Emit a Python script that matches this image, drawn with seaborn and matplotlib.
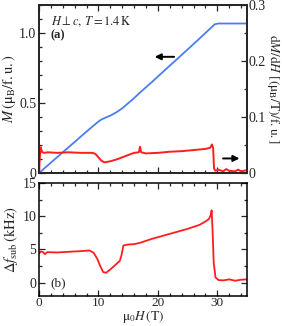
"""Magnetization, dM/dH and frequency shift vs field (H perp c, T = 1.4 K)."""

import matplotlib

matplotlib.use("Agg")
import matplotlib.pyplot as plt
import pandas as pd
import seaborn as sns
from matplotlib.ticker import MultipleLocator

# magnetization M (left axis, panel a)
M_FIELD = [0, 2, 4, 6, 8, 9.5, 10, 10.5, 11, 12, 13, 14, 16, 17, 19, 21, 23, 25, 27, 29, 29.6, 30.2, 32, 35]
M_VALUE = [0, 0.074, 0.148, 0.222, 0.296, 0.35, 0.368, 0.382, 0.392, 0.41, 0.433, 0.462, 0.535, 0.575,
           0.65, 0.728, 0.805, 0.882, 0.96, 1.04, 1.063, 1.068, 1.068, 1.068]

# dM/dH (right axis, panel a)
DMDH_FIELD = [0, 0.15, 0.3, 0.5, 0.8, 1.5, 3, 5, 7, 9, 9.5, 10, 10.5, 11, 11.5, 12, 13, 14, 15, 16,
              16.8, 17, 17.2, 18, 20, 22, 24, 26, 28, 28.8, 29.1, 29.3, 29.45, 29.7, 30.2, 31, 31.5,
              32, 33, 33.5, 34, 35]
DMDH_VALUE = [0, 0.03, 0.046, 0.038, 0.036, 0.037, 0.036, 0.037, 0.036, 0.036, 0.034, 0.028, 0.022,
              0.019, 0.02, 0.021, 0.024, 0.028, 0.032, 0.036, 0.037, 0.047, 0.037, 0.035, 0.036, 0.038,
              0.039, 0.041, 0.043, 0.045, 0.051, 0.045, 0.008, 0.004, 0.006, 0.003, 0.007, 0.004,
              0.003, 0.006, 0.003, 0.005]

# frequency shift (panel b)
DF_FIELD = [0, 0.3, 0.7, 1.0, 1.4, 3, 5, 7, 8.5, 9.2, 9.8, 10.3, 10.8, 11.3, 12, 13, 13.6, 13.9, 14.2,
            15, 16, 17, 19, 21, 23, 25, 27, 28, 28.6, 28.9, 29.05, 29.2, 29.4, 29.7, 30.2, 31, 32, 33,
            34, 35]
DF_VALUE = [4.4, 4.7, 4.6, 4.3, 4.6, 4.55, 4.65, 4.75, 4.85, 4.5, 3.6, 2.5, 1.6, 1.5, 2.0, 2.8, 3.3,
            4.2, 5.6, 5.75, 5.8, 6.0, 6.6, 7.1, 7.6, 8.1, 8.7, 9.2, 9.6, 10.2, 10.9, 8.0, 3.0, 0.8,
            0.4, 0.35, 0.5, 0.3, 0.45, 0.5]

BLUE = "#4a7df2"
RED = "#ff1e1e"


def style_axis(ax, right=True):
    ax.tick_params(which="both", direction="in", top=True, right=right, width=0.9,
                   labelsize=10, pad=2)
    ax.tick_params(which="major", length=4.5)
    ax.tick_params(which="minor", length=2.5)
    for spine in ax.spines.values():
        spine.set_linewidth(1.1)
        spine.set_color("black")


sns.set_theme(style="ticks")
plt.rcParams["font.family"] = ["Liberation Serif", "DejaVu Serif"]
plt.rcParams["mathtext.fontset"] = "stix"

m_df = pd.DataFrame({"H": M_FIELD, "M": M_VALUE})
d_df = pd.DataFrame({"H": DMDH_FIELD, "dMdH": DMDH_VALUE})
f_df = pd.DataFrame({"H": DF_FIELD, "df": DF_VALUE})

fig = plt.figure(figsize=(2.82, 3.26), dpi=100)
ax1 = fig.add_axes([0.1383, 0.4693, 0.7376, 0.5153])
ax2 = fig.add_axes([0.1383, 0.092, 0.7376, 0.3466])

# panel (a)
sns.lineplot(data=m_df, x="H", y="M", color=BLUE, linewidth=1.3, ax=ax1)
ax1.set_xlim(0, 35)
ax1.set_ylim(0, 1.2)
ax1.set_xticks([0, 10, 20, 30], [])
ax1.xaxis.set_minor_locator(MultipleLocator(2))
ax1.set_yticks([0, 0.5, 1.0], ["0", "0.5", "1.0"])
ax1.yaxis.set_minor_locator(MultipleLocator(0.1))
ax1.set_xlabel("")
ax1.set_ylabel(r"$M\,(\mathrm{\mu_B/f.u.})$", fontsize=10.5, labelpad=1)
style_axis(ax1, right=False)

ax1r = ax1.twinx()
sns.lineplot(data=d_df, x="H", y="dMdH", color=RED, linewidth=1.4, ax=ax1r)
ax1r.set_ylim(0, 0.3)
ax1r.set_xlim(0, 35)
ax1r.set_yticks([0, 0.1, 0.2, 0.3], ["0", "0.1", "0.2", "0.3"])
ax1r.yaxis.set_minor_locator(MultipleLocator(0.05))
ax1r.set_ylabel(r"$\mathrm{d}M/\mathrm{d}H\ [(\mathrm{\mu_B/T})/\mathrm{f.u.}]$",
                fontsize=9.5, rotation=270, labelpad=12)
ax1r.tick_params(which="both", direction="in", width=0.9, labelsize=10, pad=1)
ax1r.tick_params(which="major", length=4.5)
ax1r.tick_params(which="minor", length=2.5)

ax1.text(0.06, 0.90, r"$H \perp c,\, T = 1.4\,\mathrm{K}$", transform=ax1.transAxes,
         fontsize=9, va="center")
ax1.text(0.055, 0.82, "(a)", transform=ax1.transAxes, fontsize=9, va="center",
         fontweight="bold")
ax1.annotate("", xy=(19.0, 0.83), xytext=(23.2, 0.83),
             arrowprops=dict(arrowstyle="-|>", color="black", lw=1.4, mutation_scale=9))
ax1r.annotate("", xy=(34.2, 0.026), xytext=(30.5, 0.026),
              arrowprops=dict(arrowstyle="-|>", color="black", lw=1.4, mutation_scale=9))

# panel (b)
sns.lineplot(data=f_df, x="H", y="df", color=RED, linewidth=1.3, ax=ax2)
ax2.set_xlim(0, 35)
ax2.set_ylim(-2, 15)
ax2.set_xticks([0, 10, 20, 30], ["0", "10", "20", "30"])
ax2.xaxis.set_minor_locator(MultipleLocator(2))
ax2.set_yticks([0, 5, 10, 15], ["0", "5", "10", "15"])
ax2.yaxis.set_minor_locator(MultipleLocator(2.5))
ax2.set_xlabel(r"$\mathrm{\mu_0}H\,(\mathrm{T})$", fontsize=9.5, labelpad=0)
ax2.set_ylabel(r"$\Delta f_\mathrm{sub}\,(\mathrm{kHz})$", fontsize=10.5, labelpad=2)
style_axis(ax2)
ax2.tick_params(axis="x", labelsize=9.5, pad=1)
ax2.text(0.053, 0.115, "(b)", transform=ax2.transAxes, fontsize=9.5, va="center")

fig.savefig("out.png", dpi=100)
